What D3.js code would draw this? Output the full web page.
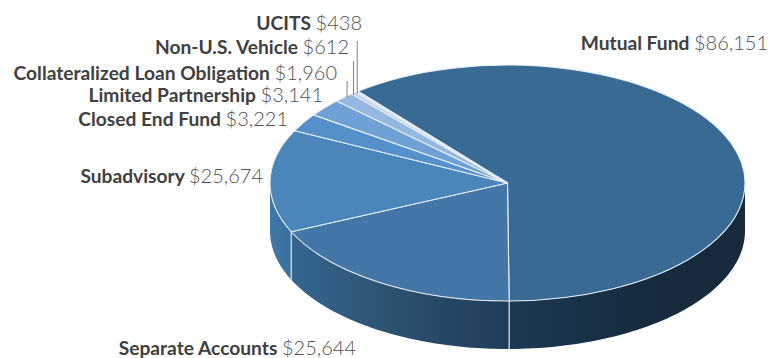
<!DOCTYPE html>
<html>
<head>
    <title>Assets by vehicle</title>
    <script src="https://d3js.org/d3.v7.min.js"></script>
    <style>
        html, body { margin: 0; background: #fff; }
        text { font-family: Lato, sans-serif; }
        .name { font-weight: 700; fill: #404040; font-size: 19.2px; }
        .amount { font-weight: 300; fill: #505050; font-size: 20px; }
    </style>
</head>
<body>
    <div id="chart"></div>
    <script>
        const categories = ["Mutual Fund", "Separate Accounts", "Subadvisory", "Closed End Fund",
            "Limited Partnership", "Collateralized Loan Obligation", "Non-U.S. Vehicle", "UCITS"];
        const amounts = [86151, 25644, 25674, 3221, 3141, 1960, 612, 438];

        const topColors = ["#396a94", "#4477a8", "#4a86ba", "#5590cb", "#6fa0d6", "#95b7e0", "#bcd0ea", "#d8e3f2"];
        // wall gradients, only the three slices that face the viewer have one
        const wallStops = [
            ["#1b3a55", "#182c40", "#17293a"],
            ["#35668f", "#2b506f", "#1f3d5a"],
            ["#4079aa", "#3d74a3", "#3a6f9d"]
        ];

        const labelAnchors = [
            { x: 768, y: 50 }, { x: 356, y: 355 }, { x: 263, y: 183 }, { x: 288, y: 126 },
            { x: 323, y: 102 }, { x: 337, y: 80 }, { x: 349, y: 54 }, { x: 362, y: 30 }
        ];
        // where each leader starts and how far along its slice it lands
        const leaderTops = { 5: 81, 6: 61, 7: 41 };
        const leaderAlong = { 5: 0.7, 6: 0.5, 7: 0.7 };

        const width = 770, height = 358;
        const cx = 507.5, cy = 183, rx = 237.5, ry = 118, depth = 48;
        const deg = Math.PI / 180;

        const svg = d3.select("#chart").append("svg")
            .attr("width", width)
            .attr("height", height)
            .style("display", "block");

        // the tilted pie in the source does not keep angles true, so pull them back at each slice edge
        const cumulative = Array.from(d3.cumsum(amounts));
        const warp = d3.scaleLinear()
            .domain([0, cumulative[0], cumulative[1], cumulative[2], cumulative[4], cumulative[5], cumulative[7]])
            .range([-39, 179.6, 245.6, 296.3, 314, 319, 321].map(d => d * deg));

        const slices = amounts.map((d, i) => ({
            index: i,
            a0: warp(i === 0 ? 0 : cumulative[i - 1]),
            a1: warp(cumulative[i])
        }));

        const xPos = d3.scaleLinear().domain([-1, 1]).range([cx - rx, cx + rx]);
        const yPos = d3.scaleLinear().domain([-1, 1]).range([cy - ry, cy + ry]);
        const rimX = a => xPos(Math.sin(a));
        const rimY = a => yPos(-Math.cos(a));

        const defs = svg.append("defs");
        wallStops.forEach((stops, i) => {
            const g = defs.append("linearGradient").attr("id", "wall" + i);
            g.selectAll("stop").data(stops).enter().append("stop")
                .attr("offset", (d, j) => j / (stops.length - 1))
                .attr("stop-color", d => d);
        });

        // walls, front half only
        const wallArea = d3.area()
            .x(a => rimX(a))
            .y0(a => rimY(a))
            .y1(a => rimY(a) + depth);

        svg.selectAll("path.wall")
            .data(slices.slice(0, 3))
            .enter()
            .append("path")
            .attr("class", "wall")
            .attr("d", d => {
                const from = Math.max(d.a0, 90 * deg);
                const to = Math.min(d.a1, 270 * deg);
                return wallArea(d3.range(0, 61).map(k => from + (to - from) * k / 60));
            })
            .attr("fill", d => `url(#wall${d.index})`);

        // white seams between walls
        svg.selectAll("line.seam")
            .data(slices.slice(0, 2))
            .enter()
            .append("line")
            .attr("class", "seam")
            .attr("x1", d => rimX(d.a1))
            .attr("x2", d => rimX(d.a1))
            .attr("y1", d => rimY(d.a1))
            .attr("y2", d => rimY(d.a1) + depth)
            .attr("stroke", "#dce6ef")
            .attr("stroke-width", 1.2);

        // top face
        const arc = d3.arc().innerRadius(0).outerRadius(rx);
        svg.append("g")
            .attr("transform", `translate(${cx},${cy}) scale(1,${ry / rx})`)
            .selectAll("path")
            .data(slices)
            .enter()
            .append("path")
            .attr("d", d => arc({ startAngle: d.a0, endAngle: d.a1 }))
            .attr("fill", d => topColors[d.index])
            .attr("stroke", "#e6eef5")
            .attr("stroke-width", 1.1)
            .attr("stroke-linejoin", "round")
            .attr("vector-effect", "non-scaling-stroke");

        // leaders for the small slices
        const leaderAngle = d => d.a0 + (d.a1 - d.a0) * leaderAlong[d.index];
        svg.selectAll("line.leader")
            .data(slices.filter(d => leaderTops[d.index] !== undefined))
            .enter()
            .append("line")
            .attr("class", "leader")
            .attr("x1", d => rimX(leaderAngle(d)))
            .attr("x2", d => rimX(leaderAngle(d)))
            .attr("y1", d => leaderTops[d.index])
            .attr("y2", d => rimY(leaderAngle(d)) + 2)
            .attr("stroke", "#808080")
            .attr("stroke-width", 1);

        const fmt = d3.format("$,");
        const labels = svg.selectAll("text.label")
            .data(categories)
            .enter()
            .append("text")
            .attr("class", "label")
            .attr("x", (d, i) => labelAnchors[i].x)
            .attr("y", (d, i) => labelAnchors[i].y)
            .attr("text-anchor", "end");
        labels.append("tspan").attr("class", "name").text(d => d + " ");
        labels.append("tspan").attr("class", "amount").text((d, i) => fmt(amounts[i]));
    </script>
</body>
</html>
